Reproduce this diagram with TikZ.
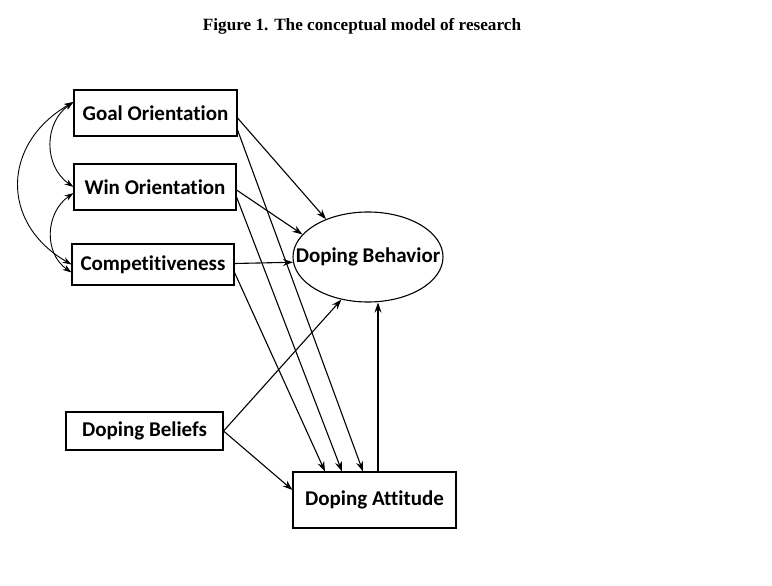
\documentclass[tikz,border=0pt]{standalone}
\usepackage{fontspec}
\setmainfont{Liberation Serif}
\newfontfamily\boxfont[Ligatures=NoCommon]{Carlito}
\usetikzlibrary{arrows.meta,shapes.geometric}

\begin{document}
\begin{tikzpicture}[x=1pt,y=-1pt,
    arr/.style={-{Stealth[length=10pt,width=7pt]},line width=1.1pt},
    dblarr/.style={{Stealth[length=9pt,width=6pt]}-{Stealth[length=9pt,width=6pt]},line width=0.9pt}]

      \useasboundingbox (0,0) rectangle (772,586);

      \node (title) at (362,26) {\fontsize{17.2}{20}\selectfont\bfseries Figure 1. The conceptual model of research};

      \begin{scope}[every node/.style={rectangle,draw,line width=1.1pt,inner sep=0pt,
          font=\boxfont\bfseries\fontsize{21}{24}\selectfont}]
        \node[minimum width=163pt,minimum height=46pt] (goal)     at (155.5,113) {Goal Orientation};
        \node[minimum width=162pt,minimum height=46pt] (win)      at (155,187)   {Win Orientation};
        \node[minimum width=162pt,minimum height=41pt] (comp)     at (153,264.5) {Competitiveness};
        \node[minimum width=157pt,minimum height=38pt] (beliefs)  at (144.5,431) {Doping Beliefs};
        \node[minimum width=163pt,minimum height=56pt] (attitude) at (374.5,500) {Doping Attitude};
        \node[ellipse,inner xsep=-21pt,minimum width=150pt,minimum height=90pt] (behavior) at (368,257) {Doping Behavior};
      \end{scope}

      \begin{scope}[every edge/.style={draw,arr}]
        \path ([yshift=-5pt]goal.east)  edge (behavior.138);
        \path ([yshift=-17pt]goal.east) edge ([xshift=-11.5pt]attitude.north);
        \path ([yshift=-3pt]win.east)   edge (behavior.161);
        \path ([yshift=-10pt]win.east)  edge ([xshift=-32.5pt]attitude.north);
        \path ([yshift=1pt]comp.east)   edge (behavior.184);
        \path ([yshift=-8pt]comp.east)  edge ([xshift=-49.5pt]attitude.north);
        \path (beliefs.east) edge (behavior.238);
        \path (beliefs.east) edge ([yshift=10pt]attitude.west);
        \path ([xshift=3.5pt]attitude.north) edge ([xshift=3.5pt]attitude.north |- behavior.south);
      \end{scope}

      \begin{scope}[every edge/.style={draw,dblarr}]
        \path ([yshift=11pt]goal.west) edge[out=210,in=150,looseness=1.3] (comp.west);
        \path ([yshift=11pt]goal.west) edge[out=215,in=145,looseness=1.1] (win.west);
        \path ([yshift=-6pt]win.west)  edge[out=215,in=145,looseness=1.1] ([yshift=-8pt]comp.west);
      \end{scope}

    \end{tikzpicture}
\end{document}
